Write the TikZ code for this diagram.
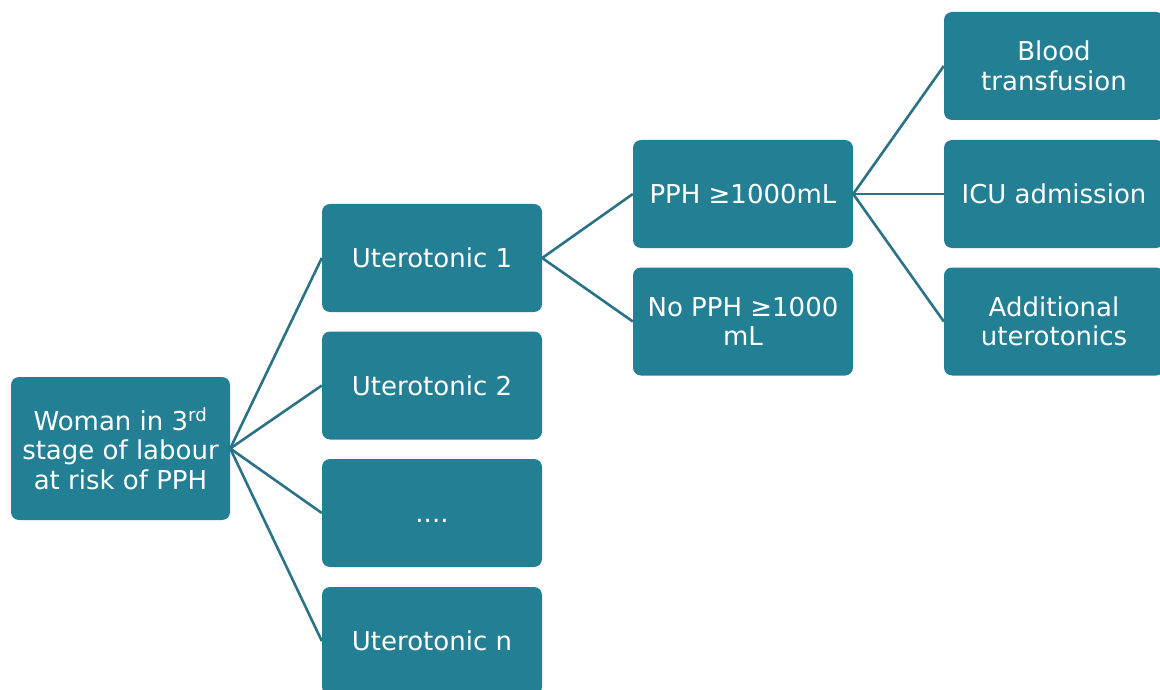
\documentclass[tikz,border=0pt]{standalone}
\usepackage{fontspec}
\setmainfont{DejaVu Sans}
\definecolor{boxteal}{HTML}{237F94}
\definecolor{lineteal}{HTML}{2A7386}
\tikzset{
	box/.style={fill=boxteal, text=white, rounded corners=8pt, minimum width=220pt, minimum height=108pt, inner sep=0pt, align=center, font=\fontsize{26}{29.5}\selectfont},
	link/.style={lineteal, line width=2.6pt}
}

\begin{document}
\begin{tikzpicture}[x=1pt, y=-1pt]
	\useasboundingbox (0,0) rectangle (1160,690);
	\node [box, minimum width=219pt, minimum height=143pt] (Woman) at (120.5, 448.5) {Woman in 3\textsuperscript{rd}\\stage of labour\\at risk of PPH};
	\node [box] (U1) at (432, 258) {Uterotonic 1};
	\node [box] (U2) at (432, 385.5) {Uterotonic 2};
	\node [box] (Udots) at (432, 513) {\vphantom{U}....};
	\node [box] (Un) at (432, 641) {Uterotonic n};
	\node [box] (PPH) at (743, 194) {PPH ≥1000mL};
	\node [box] (NoPPH) at (743, 321.5) {No PPH ≥1000\\mL};
	\node [box] (Blood) at (1054, 66) {Blood\\transfusion};
	\node [box] (ICU) at (1054, 194) {ICU admission};
	\node [box] (Extra) at (1054, 321.5) {Additional\\uterotonics};
	\draw [link] (Woman.east) -- (U1.west);
	\draw [link] (Woman.east) -- (U2.west);
	\draw [link] (Woman.east) -- (Udots.west);
	\draw [link] (Woman.east) -- (Un.west);
	\draw [link] (U1.east) -- (PPH.west);
	\draw [link] (U1.east) -- (NoPPH.west);
	\draw [link] (PPH.east) -- (Blood.west);
	\draw [link] (PPH.east) -- (ICU.west);
	\draw [link] (PPH.east) -- (Extra.west);
\end{tikzpicture}
\end{document}
